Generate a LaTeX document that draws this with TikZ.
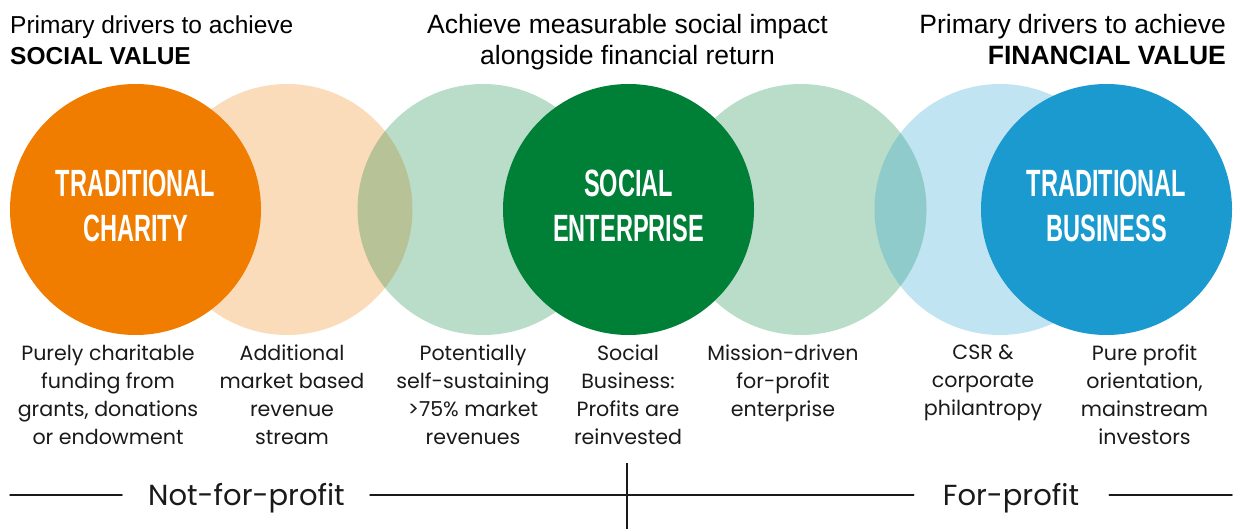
\documentclass[tikz,border=0pt]{standalone}
\usepackage{fontspec}
\setmainfont{Liberation Sans}
\newfontfamily\descfont{Poppins}
\newfontfamily\capsfont[FakeStretch=0.62]{Liberation Sans}
\definecolor{charity}{RGB}{240,124,0}
\definecolor{socent}{RGB}{0,128,55}
\definecolor{business}{RGB}{27,154,208}
\definecolor{ink}{RGB}{26,26,26}
\begin{document}
\begin{tikzpicture}[x=1pt,y=-1pt,line cap=round]
\tikzset{ball/.style={circle,minimum size=251pt,inner sep=0pt},
	halo/.style={ball,fill=#1,fill opacity=.27},
	ballname/.style={white,align=center,font=\capsfont\bfseries\fontsize{38}{45}\selectfont},
	desc/.style={anchor=north,align=center,inner sep=0pt,text=ink,font=\descfont\fontsize{20.6}{28}\selectfont},
	head/.style={inner sep=0pt,font=\fontsize{#1}{31}\selectfont},
	side/.style={anchor=base,inner sep=0pt,text=ink,font=\descfont\fontsize{29}{30}\selectfont},
	axis/.style={line width=1.5pt,ink}}
\useasboundingbox (0,0) rectangle (1247,529);
\node[halo=charity] (peach) at (287,209.5) {};
\node[halo=socent] (mint1) at (483,209.5) {};
\node[halo=socent] (mint2) at (801,209.5) {};
\node[halo=business] (sky) at (1000,209.5) {};
\node[ball,fill=charity] (charity) at (135.5,209.5) {};
\node[ball,fill=socent] (socent) at (628.5,209.5) {};
\node[ball,fill=business] (business) at (1106.5,209.5) {};
\node[ballname] at (135.5,206) {TRADITIONAL\\CHARITY};
\node[ballname] at (628.5,206) {SOCIAL\\ENTERPRISE};
\node[ballname] at (1106.5,206) {TRADITIONAL\\BUSINESS};
\node[head=24.5,anchor=north west,align=left] (socval) at (10,16) {Primary drivers to achieve\\\textbf{SOCIAL VALUE}};
\node[head=26.5,anchor=north,align=center] (impact) at (627.5,14) {Achieve measurable social impact\\alongside financial return};
\node[head=26.5,anchor=north east,align=right] (finval) at (1226,14) {Primary drivers to achieve\\\textbf{FINANCIAL VALUE}};
\node[desc] (d1) at (108,345) {Purely charitable\\funding from\\grants, donations\\or endowment};
\node[desc] (d2) at (292,345) {Additional\\market based\\revenue\\stream};
\node[desc] (d3) at (473,345) {Potentially\\self-sustaining\\>75\% market\\revenues};
\node[desc] (d4) at (628,345) {Social\\Business:\\Profits are\\reinvested};
\node[desc] (d5) at (783,345) {Mission-driven\\for-profit\\enterprise};
\node[desc] (d6) at (983,345) {CSR \&\\corporate\\philantropy};
\node[desc] (d7) at (1144.5,345) {Pure profit\\orientation,\\mainstream\\investors};
\node[side] (nfp) at (246.5,505) {Not-for-profit};
\node[side] (fp) at (1011,505) {For-profit};
\coordinate (axisL) at (10,495);
\coordinate (axisR) at (1232,495);
\coordinate (tickT) at (627,463);
\coordinate (tickB) at (627,529);
\draw[axis] (axisL) -- ([xshift=-26pt]axisL -| nfp.west);
\draw[axis] ([xshift=25pt]axisL -| nfp.east) -- ([xshift=-29pt]axisL -| fp.west);
\draw[axis] ([xshift=30pt]axisR -| fp.east) -- (axisR);
\draw[axis,line cap=butt] (tickT) -- (tickB);
\end{tikzpicture}
\end{document}
